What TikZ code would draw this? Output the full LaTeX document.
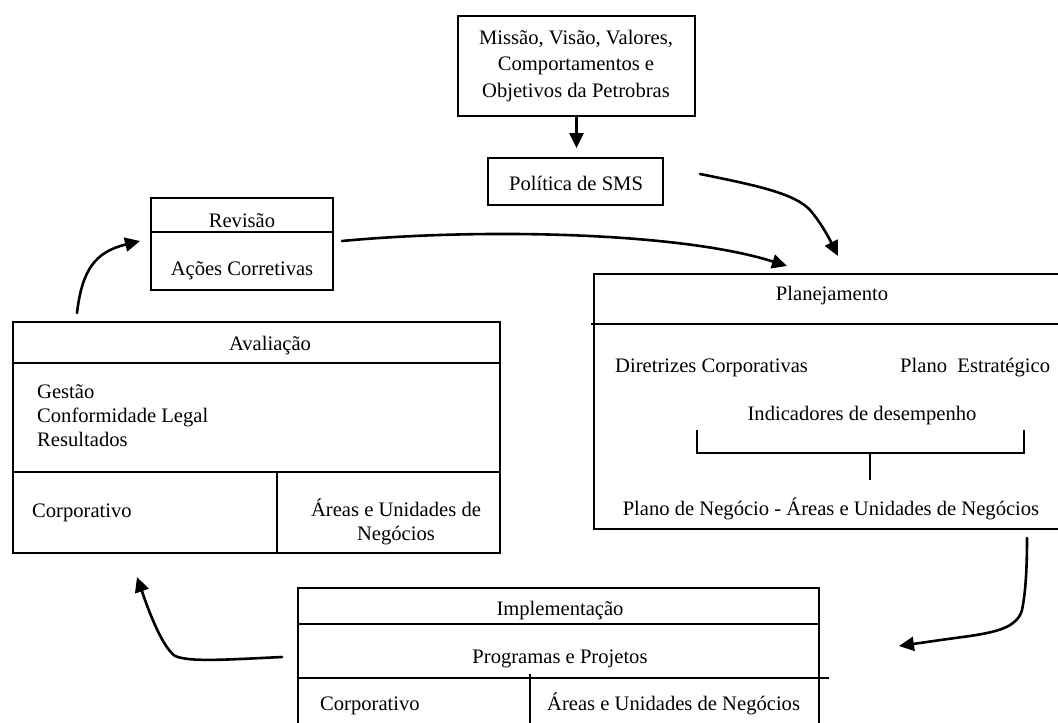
\documentclass[tikz,border=0pt]{standalone}
\usepackage{fontspec}
\setmainfont{Liberation Serif}
\usetikzlibrary{arrows.meta,fit}
\begin{document}
\begin{tikzpicture}[x=1pt,y=-1pt,
  box/.style={draw, line width=1.7pt, inner sep=0pt},
  rule/.style={line width=1.7pt},
  lbl/.style={inner sep=0pt, font=\fontsize{20.6}{26.5}\selectfont},
  arr/.style={line width=2.6pt, line cap=round, -{Triangle[length=15pt,width=14pt]}}]
\useasboundingbox (0,0) rectangle (1058,723);
\clip (0,0) rectangle (1058,723);

% boxes
\node[box, fit={(458,16)(695,116)}] (missao) {};
\node[box, fit={(488,158)(663,205)}] (politica) {};
\node[box, fit={(151,198)(333,290)}] (revisao) {};
\node[box, fit={(594,274)(1075,529)}] (plan) {};
\node[box, fit={(13,322)(500,553)}] (aval) {};
\node[box, fit={(298,588)(819,745)}] (impl) {};

% dividers
\draw[rule] (151,232) -- (333,232);
\draw[rule] (591,324) -- (1075,324);
\draw[rule] (13,363) -- (500,363);
\draw[rule] (13,472) -- (500,472);
\draw[rule] (277,472) -- (277,553);
\draw[rule] (298,624) -- (819,624);
\draw[rule] (298,678) -- (829,678);
\draw[rule] (530,674) -- (530,745);
% bracket
\draw[rule] (697,430) -- (697,453) -- (1024,453) -- (1024,430);
\draw[rule] (870,453) -- (870,480);

% texts
\node[lbl, anchor=base] (tmis1) at (576,44) {Missão, Visão, Valores,};
\node[lbl, anchor=base] (tmis2) at (576,70.5) {Comportamentos e};
\node[lbl, anchor=base] (tmis3) at (576,97) {Objetivos da Petrobras};
\node[lbl, anchor=base] (tpol) at (576,190) {Política de SMS};
\node[lbl, anchor=base] (trev) at (242,227) {Revisão};
\node[lbl, anchor=base] (tacoes) at (242,275) {Ações Corretivas};
\node[lbl, anchor=base] (tplan) at (832,300) {Planejamento};
\node[lbl, anchor=base west] (tdir) at (615,372) {Diretrizes Corporativas};
\node[lbl, anchor=base west] (tpe) at (900,372) {Plano\ \ Estratégico};
\node[lbl, anchor=base] (tind) at (862,420) {Indicadores de desempenho};
\node[lbl, anchor=base] (tpn) at (831,515) {Plano de Negócio - Áreas e Unidades de Negócios};
\node[lbl, anchor=base] (taval) at (270,350) {Avaliação};
\node[lbl, anchor=base west] (tgest) at (37,398) {Gestão};
\node[lbl, anchor=base west] (tconf) at (37,422) {Conformidade Legal};
\node[lbl, anchor=base west] (tres) at (37,446) {Resultados};
\node[lbl, anchor=base west] (tcorp1) at (32,517) {Corporativo};
\node[lbl, anchor=base] (tareas1a) at (396,516) {Áreas e Unidades de};
\node[lbl, anchor=base] (tareas1b) at (396,540) {Negócios};
\node[lbl, anchor=base] (timpl) at (560,615) {Implementação};
\node[lbl, anchor=base] (tprog) at (560,663) {Programas e Projetos};
\node[lbl, anchor=base west] (tcorp2) at (320,710) {Corporativo};
\node[lbl, anchor=base west] (tareas2) at (547,710) {Áreas e Unidades de Negócios};

% connector end points
\coordinate (a2s) at (700,174);
\coordinate (a2e) at (838,256);
\coordinate (a3s) at (342,241);
\coordinate (a3e) at (787,266);
\coordinate (a4s) at (1027,538);
\coordinate (a4e) at (899,646);
\coordinate (a5s) at (282,657);
\coordinate (a5e) at (137,577);
\coordinate (a6s) at (77,313);
\coordinate (a6e) at (140,241);

% connectors
\draw[arr, shorten >=9pt] (missao.south) -- (missao.south |- politica.north);
\draw[arr] (a2s) .. controls (760,186) and (795,194) .. (810,210)
  .. controls (822,224) and (830,240) .. (a2e);
\draw[arr] (a3s) .. controls (480,228) and (680,232) .. (a3e);
\draw[arr] (a4s) .. controls (1027,575) and (1025,595) .. (1022,610)
  .. controls (1017,628) and (995,632) .. (970,636)
  .. controls (940,640) and (920,643) .. (a4e);
\draw[arr] (a5s) .. controls (220,660) and (190,662) .. (175,656)
  .. controls (160,645) and (145,600) .. (a5e);
\draw[arr] (a6s) .. controls (82,270) and (95,252) .. (a6e);
\end{tikzpicture}
\end{document}
